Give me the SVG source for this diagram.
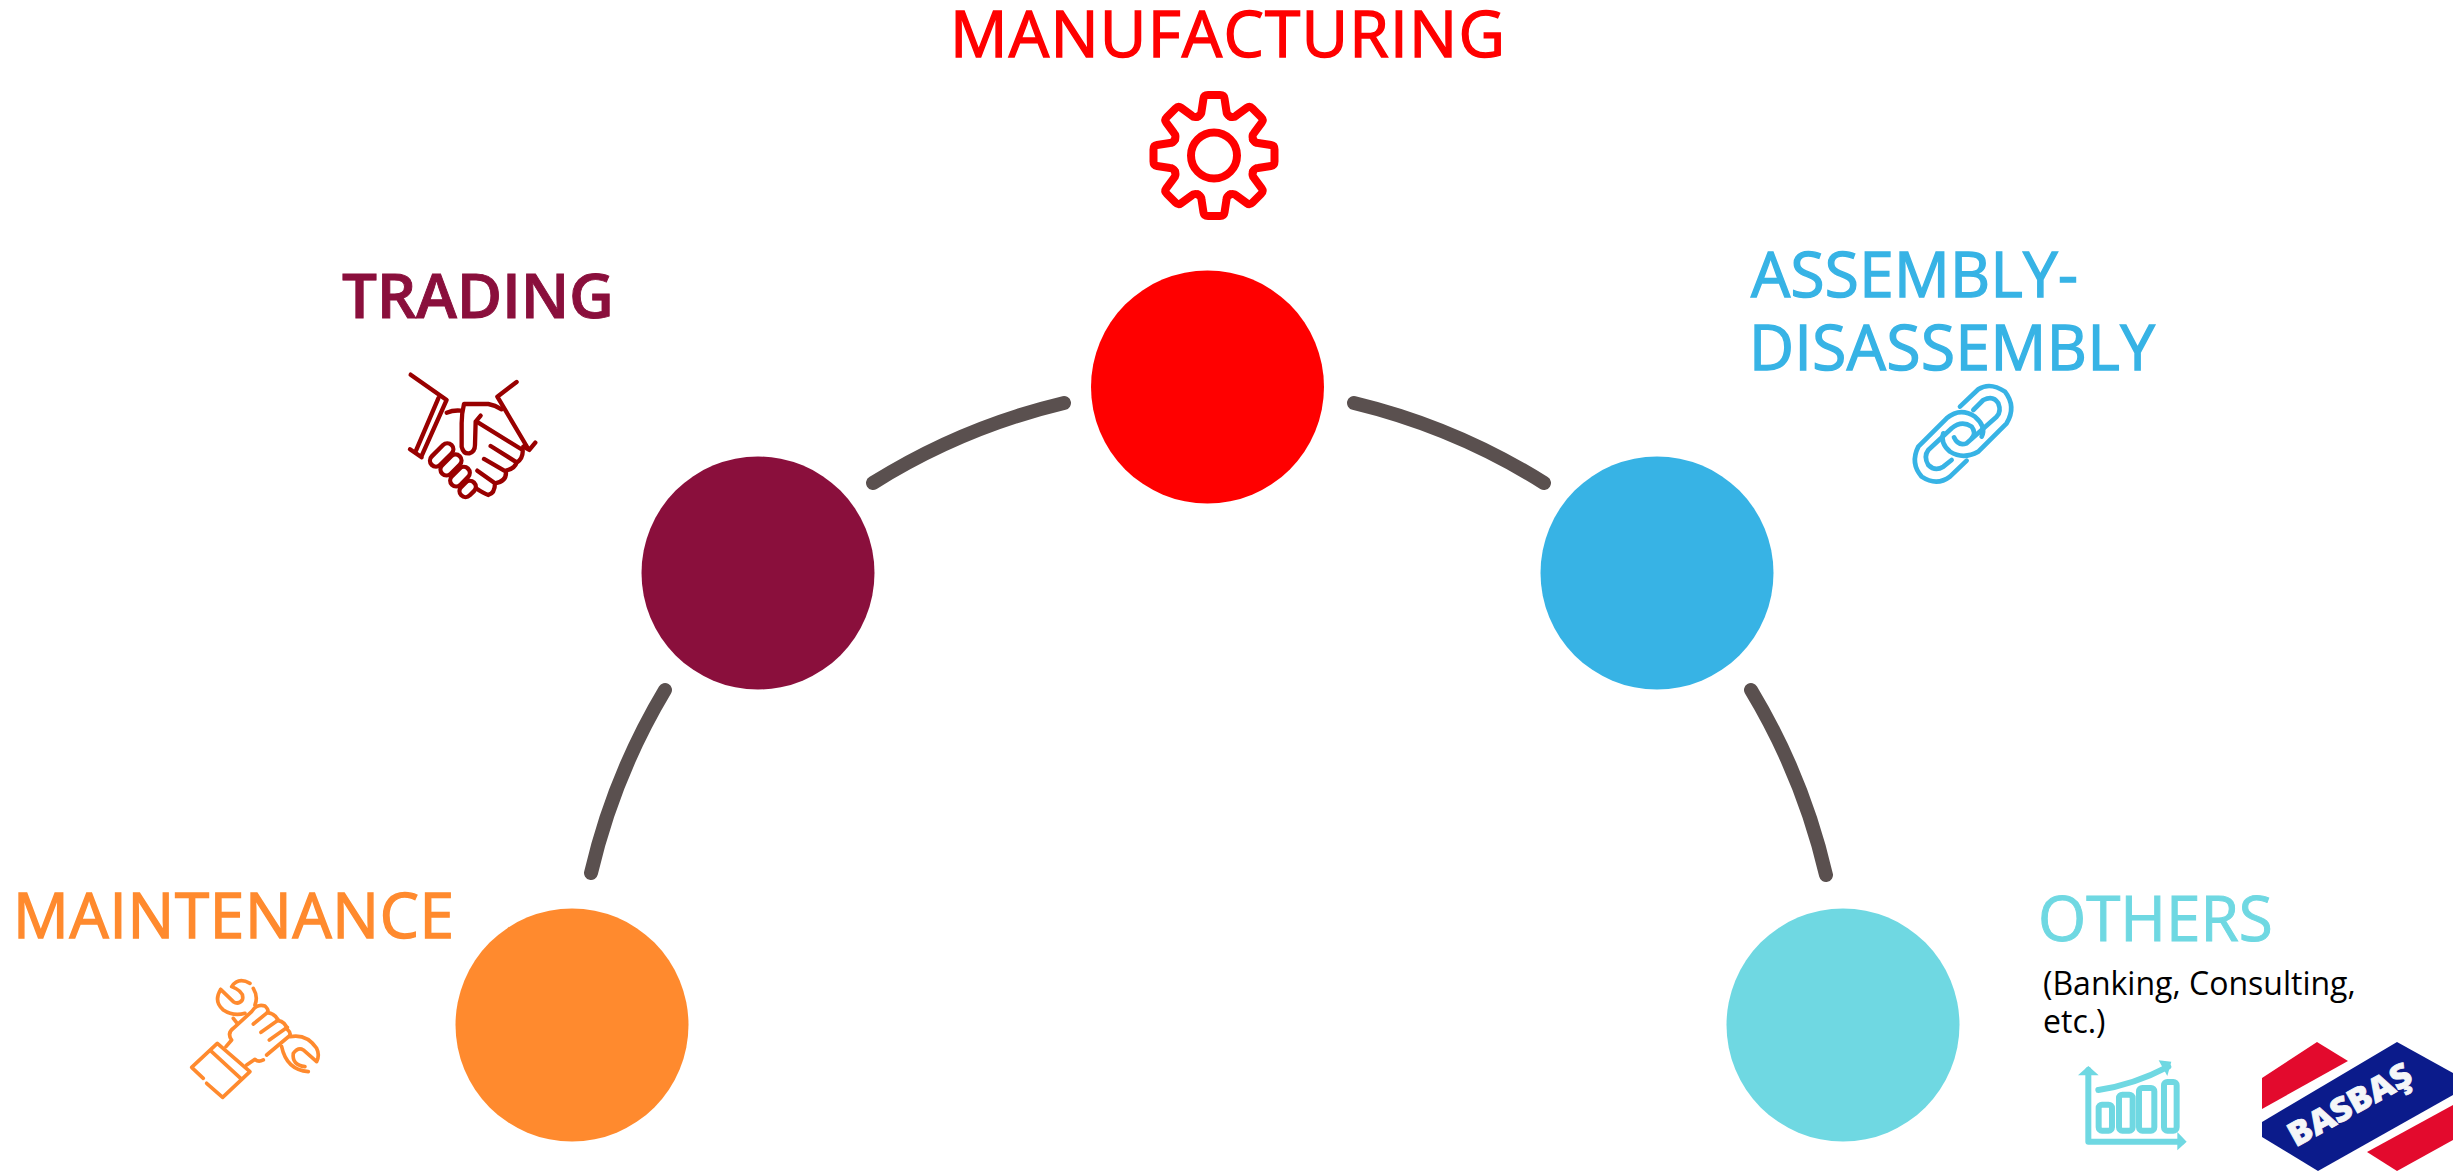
<svg xmlns="http://www.w3.org/2000/svg" xmlns:xlink="http://www.w3.org/1999/xlink" width="2453" height="1171" viewBox="0 0 2453 1171">
<style>
text{font-family:"Open Sans","Liberation Sans",sans-serif}
.t{font-size:62px;stroke-width:1.4px}
.ic{fill:none;stroke-linecap:round;stroke-linejoin:round}
.arc{fill:none;stroke:#5A504F;stroke-width:14;stroke-linecap:round}
</style>
<defs>
<path id="tooth" d="M-16,-39Q-12.5,-41 -12.5,-44L-10.5,-57Q-10,-60.5 -6,-60.5L6,-60.5Q10,-60.5 10.5,-57L12.5,-44Q12.5,-41 16,-39"/>
</defs>
<rect width="2453" height="1171" fill="#fff"/>
<g id="connectors">
<path class="arc" d="M1064,403A638.5,638.5 0 0 0 873,483"/>
<path class="arc" d="M665,690A638.5,638.5 0 0 0 591,873"/>
<path class="arc" d="M1354,403A638.5,638.5 0 0 1 1544,483"/>
<path class="arc" d="M1751,690A638.5,638.5 0 0 1 1826,875"/>
</g>
<g id="manufacturing">
<circle cx="1207.5" cy="387" r="116.5" fill="#f00"/>
<text class="t" x="950" y="56.5" fill="#f00" stroke="#f00" style="font-size:64px" textLength="555">MANUFACTURING</text>
<g class="ic" stroke="#f00" stroke-width="8" transform="translate(1214 155.500)">
<circle r="23"/>
<use xlink:href="#tooth"/><use xlink:href="#tooth" transform="rotate(45)"/><use xlink:href="#tooth" transform="rotate(90)"/><use xlink:href="#tooth" transform="rotate(135)"/><use xlink:href="#tooth" transform="rotate(180)"/><use xlink:href="#tooth" transform="rotate(225)"/><use xlink:href="#tooth" transform="rotate(270)"/><use xlink:href="#tooth" transform="rotate(315)"/>
</g>
</g>
<g id="trading">
<circle cx="758" cy="573" r="116.5" fill="#8A0F3C"/>
<text class="t" x="342" y="318" fill="#8A0F3C" stroke="#8A0F3C" style="font-weight:600;stroke-width:.9px" textLength="272">TRADING</text>
<g class="ic" stroke="#990000" stroke-width="13" transform="translate(320 250) scale(.3333)">
<path d="M272,374L380,450L305,618M270,598L305,622M355,445L288,602"/>
<path d="M590,396L532,440L625,597M610,590L628,600L646,578"/>
<path d="M380,488Q400,480 422,482M545,478Q525,465 505,462L432,462Q425,490 425,520L425,590Q430,612 448,610Q465,605 465,585L467,515L482,497"/>
<path d="M470,515L608,600Q610,625 590,638M512,588L590,637Q585,655 558,662M492,627L558,665Q560,695 525,700M472,662L525,700Q525,730 505,735Q490,730 468,715"/>
<rect x="323" y="597" width="84" height="36" rx="18" transform="rotate(-45 365 615)"/>
<rect x="356" y="627" width="74" height="36" rx="18" transform="rotate(-45 393 645)"/>
<rect x="386" y="662" width="68" height="36" rx="18" transform="rotate(-45 420 680)"/>
<rect x="416" y="699" width="54" height="36" rx="18" transform="rotate(-45 443 717)"/>
</g>
</g>
<g id="assembly">
<circle cx="1657" cy="573" r="116.5" fill="#37B3E5"/>
<text class="t" x="1751" y="297" fill="#37B3E5" stroke="#37B3E5" textLength="327">ASSEMBLY-</text>
<text class="t" x="1749" y="370" fill="#37B3E5" stroke="#37B3E5" textLength="406">DISASSEMBLY</text>
<g class="ic" stroke="#37B3E5" stroke-width="14" transform="translate(1730 230) scale(.3333)">
<path d="M690,530L745,478Q780,455 825,485Q860,530 830,580L745,665Q700,690 660,665Q630,640 640,610"/>
<path d="M730,540L760,510Q790,495 805,520Q815,545 800,560L710,640Q685,650 672,622"/>
<path d="M710,692L660,740Q620,770 575,740Q540,700 565,650L650,565Q690,530 735,560Q770,590 755,620"/>
<path d="M665,690L640,710Q615,725 595,705Q580,680 595,660L665,595Q695,570 725,590Q740,610 725,625"/>
</g>
</g>
<g id="maintenance">
<circle cx="572" cy="1025" r="116.5" fill="#FF8A2E"/>
<text class="t" x="13" y="938" fill="#FF8A2E" stroke="#FF8A2E" textLength="441">MAINTENANCE</text>
<g class="ic" stroke="#FF8A2E" stroke-width="11" transform="translate(0 870) scale(.3333)">
<path d="M620,640L668,682L750,605L652,520L575,592L610,625M635,545L722,625"/>
<path d="M678,530L695,510Q680,490 700,475L755,425Q770,400 795,408Q808,420 802,428Q825,430 835,452Q855,455 862,478Q875,490 868,498L800,555"/>
<path d="M760,462L802,428M783,487L835,450M808,510L862,472M740,585L765,568Q775,578 790,570"/>
<path d="M662,358Q640,395 670,420Q700,440 735,430M662,358L700,395Q715,405 727,390Q735,365 695,350Q715,320 750,340M760,355Q775,380 765,405M700,445L710,458"/>
<path d="M845,530Q860,600 925,605M870,500Q920,490 950,535Q960,555 950,575L910,540Q895,530 880,550Q875,585 915,590"/>
</g>
</g>
<g id="others">
<circle cx="1843" cy="1025" r="116.5" fill="#6FD8E2"/>
<text class="t" x="2038" y="941" fill="#6FD8E2" stroke="#6FD8E2" style="stroke-width:1px">OTHERS</text>
<text x="2043" y="995" font-size="32" fill="#000">(Banking, Consulting,</text>
<text x="2043" y="1033" font-size="32" fill="#000">etc.)</text>
<g class="ic" transform="translate(2020 880) scale(.3333)">
<g stroke="#6FD8E2" stroke-width="18">
<path d="M205,570L205,785L485,785"/>
<path d="M235,630Q340,615 445,560"/>
<rect x="236" y="674" width="40" height="78" rx="10"/>
<rect x="297" y="644" width="41" height="108" rx="10"/>
<rect x="357" y="624" width="46" height="128" rx="10"/>
<rect x="432" y="606" width="38" height="146" rx="10"/>
</g>
<g fill="#6FD8E2" stroke="none">
<path d="M174,586L205,558L236,586ZM472,756L500,785L472,811ZM416,541L454,545L442,588Z"/>
</g>
</g>
</g>
<g id="logo">
<path fill="#E30A2D" d="M2262,1078L2317,1042L2348,1061L2262,1109Z"/>
<path fill="#0B1B8B" d="M2262,1122L2397,1042L2453,1073L2453,1095L2318,1171L2262,1137Z"/>
<path fill="#E30A2D" d="M2453,1105L2367,1152L2397,1171L2453,1140Z"/>
<text x="2350" y="1116" text-anchor="middle" transform="rotate(-29 2350 1105)" fill="#F4F6F8" stroke="#F4F6F8" stroke-width=".8" font-size="33" font-weight="800" textLength="136" lengthAdjust="spacingAndGlyphs">BASBAŞ</text>
</g>
</svg>
